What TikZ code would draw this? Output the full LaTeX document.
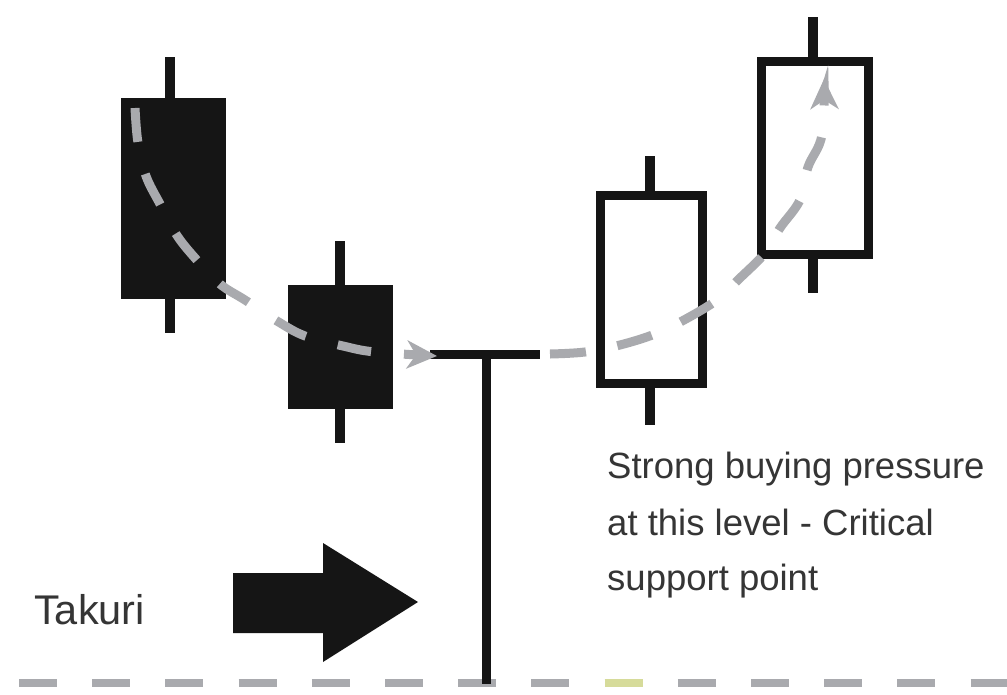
\documentclass[tikz,border=0pt]{standalone}
\usepackage{fontspec}
\setmainfont{Liberation Sans}
\usetikzlibrary{arrows.meta}
\definecolor{ink}{HTML}{151515}
\definecolor{dashgray}{HTML}{A9AAAE}
\definecolor{txt}{HTML}{353535}
\definecolor{paleyel}{HTML}{D6DB9A}
\tikzset{
  wick/.style={draw=ink, line width=10pt},
  bearbody/.style={fill=ink, draw=none},
  bullbody/.style={fill=white, draw=ink, line width=9pt},
  trend/.style={draw=dashgray, line width=9pt, dash pattern=on 34pt off 33pt},
  trendtip/.style={-{Stealth[length=30pt,width=28pt,inset=9pt]}},
  label/.style={text=txt, inner sep=0pt, anchor=base west},
  floor/.style={draw=dashgray, line width=8pt, dash pattern=on 38pt off 35.2pt}
}
\begin{document}
\begin{tikzpicture}[x=1pt,y=-1pt]
\useasboundingbox (0,0) rectangle (1007,694);
\fill[white] (0,0) rectangle (1007,694);

% bottom dashed line
\coordinate (fl) at (19,683);
\coordinate (fr) at (1007,683);
\draw[floor] (fl) -- (fr);
\draw[draw=paleyel, line width=8pt] (605,683) -- (643,683);

% candle 1 (black)
\coordinate (c1t) at (170,57);
\coordinate (c1b) at (170,333);
\draw[wick] (c1t) -- (c1b);
\fill[bearbody] (121,98) rectangle (226,299);

% candle 2 (black)
\coordinate (c2t) at (340,241);
\coordinate (c2b) at (340,443);
\draw[wick] (c2t) -- (c2b);
\fill[bearbody] (288,285) rectangle (393,409);

% takuri
\coordinate (tl) at (430,354.5);
\coordinate (tr) at (540,354.5);
\coordinate (tv) at (486,354);
\coordinate (tb) at (486,684);
\draw[draw=ink, line width=9pt] (tv) -- (tb);
\draw[draw=ink, line width=9pt] (tl) -- (tr);

% candle 3 (white)
\coordinate (c3t) at (650,156);
\coordinate (c3b) at (650,425);
\draw[wick] (c3t) -- (c3b);
\draw[bullbody] (600.5,195.5) rectangle (702.5,383.5);

% candle 4 (white)
\coordinate (c4t) at (813,17);
\coordinate (c4b) at (813,293);
\draw[wick] (c4t) -- (c4b);
\draw[bullbody] (761.5,61.5) rectangle (868.5,254.5);

% trend lines
\draw[trend, trendtip] plot[smooth, tension=0.6] coordinates {
  (135,108) (138,143) (146,176) (160,204) (176,234) (195,258) (220,284)
  (245,300) (277,321) (305,336) (343,346) (375,352) (437,356)};
\draw[trend, dash pattern=on 36pt off 32pt, trendtip] plot[smooth, tension=0.6] coordinates {
  (550,354) (585,352) (620,345) (655,334) (684,320) (717,300) (739,279)
  (765,253) (780,228) (800,200) (808,167) (822,135) (824,79)};

% block arrow
\fill[ink] (233,573) -- (323,573) -- (323,543) -- (418,602) -- (323,662)
  -- (323,633) -- (233,633) -- cycle;

% texts
\node[label, font=\fontsize{41.5}{48}\selectfont] (tak) at (34,624) {Takuri};
\node[label, font=\fontsize{36.5}{57}\selectfont] (s1) at (607,478) {Strong buying pressure};
\node[label, font=\fontsize{36.5}{57}\selectfont] (s2) at (607,535) {at this level - Critical};
\node[label, font=\fontsize{36.5}{57}\selectfont] (s3) at (607,590) {support point};
\end{tikzpicture}
\end{document}
